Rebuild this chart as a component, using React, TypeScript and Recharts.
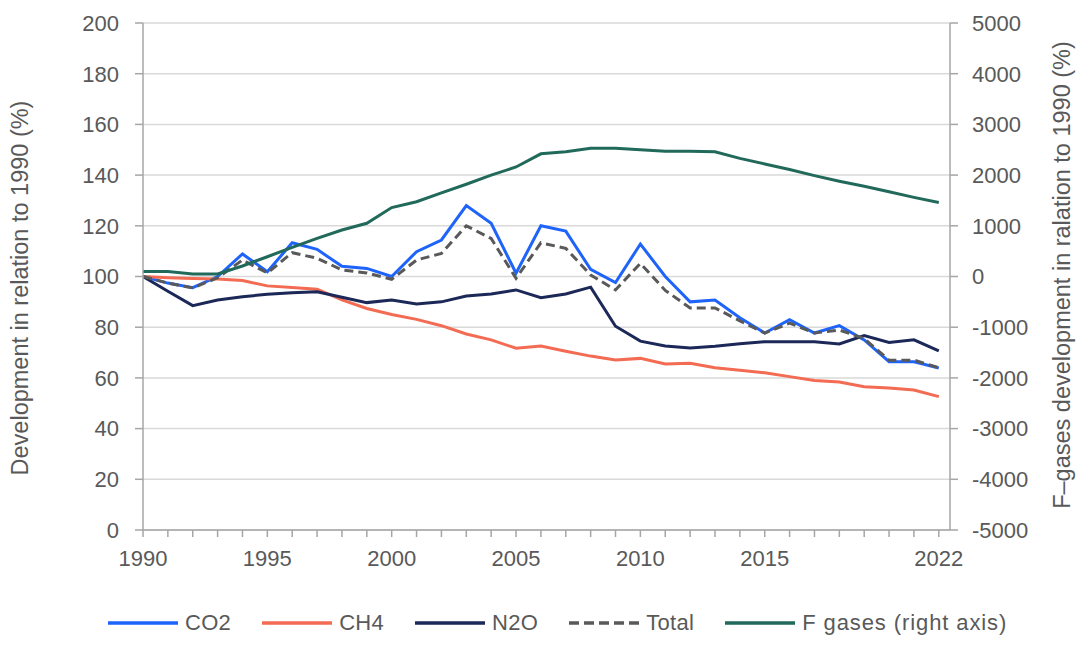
import React from 'react';
import { LineChart, Line, XAxis, YAxis, CartesianGrid, Legend } from 'recharts';

const years = [1990, 1991, 1992, 1993, 1994, 1995, 1996, 1997, 1998, 1999, 2000, 2001, 2002, 2003, 2004, 2005, 2006, 2007, 2008, 2009, 2010, 2011, 2012, 2013, 2014, 2015, 2016, 2017, 2018, 2019, 2020, 2021, 2022];
const co2 = [100, 97.4, 95.6, 100, 108.9, 101.9, 113.3, 110.7, 104, 103.2, 100, 109.8, 114.4, 128, 121, 101.3, 120, 117.9, 102.8, 97.6, 112.8, 100, 90, 90.7, 83.7, 77.7, 83, 77.7, 80.6, 75, 66.4, 66.4, 63.9];
const ch4 = [100, 99.5, 99.2, 99, 98.4, 96.3, 95.7, 95, 90.8, 87.4, 85, 83.1, 80.6, 77.3, 75, 71.7, 72.6, 70.5, 68.6, 67.1, 67.7, 65.5, 65.8, 64, 63, 62, 60.5, 59, 58.4, 56.5, 56, 55.2, 52.6];
const n2o = [100, 94.2, 88.5, 90.7, 92, 93, 93.6, 94, 91.8, 89.7, 90.7, 89.2, 90, 92.3, 93.1, 94.7, 91.6, 93.1, 95.8, 80.4, 74.5, 72.6, 71.8, 72.5, 73.5, 74.3, 74.3, 74.3, 73.4, 76.7, 74, 75, 70.7];
const total = [100, 97.4, 95.5, 99.5, 106.5, 101.4, 109.4, 107.2, 102.6, 101.4, 98.9, 106.5, 109.1, 120, 115, 99.3, 113.3, 111.1, 100.6, 94.7, 105.2, 94.5, 87.6, 87.6, 82.5, 77.7, 81.6, 77.7, 78.9, 75.5, 67, 67, 64];
const fgases = [100, 100, 50, 50, 207, 390, 575, 753, 917, 1050, 1360, 1475, 1650, 1820, 2000, 2160, 2420, 2460, 2530, 2530, 2500, 2470, 2470, 2460, 2330, 2220, 2110, 1990, 1880, 1780, 1670, 1560, 1460];

const labelYears = [1990, 1995, 2000, 2005, 2010, 2015, 2022];
const leftTicks = [0, 20, 40, 60, 80, 100, 120, 140, 160, 180, 200];
const rightTicks = [-5000, -4000, -3000, -2000, -1000, 0, 1000, 2000, 3000, 4000, 5000];

const seriesNames = ['CO2', 'CH4', 'N2O', 'Total', 'F gases (right axis)'];
const seriesColors = ['#1F64FA', '#F26B52', '#1B2858', '#595959', '#21695A'];

const data = years.map((year, i) => ({
  year,
  co2: co2[i],
  ch4: ch4[i],
  n2o: n2o[i],
  total: total[i],
  fgases: fgases[i],
}));

const FONT = '"Liberation Sans", Arial, sans-serif';
const TEXT = '#595959';
const AXIS = '#A6A6A6';

const LegendContent = () => (
  <div
    style={{
      display: 'flex',
      alignItems: 'center',
      height: 26,
      paddingLeft: 108,
      fontFamily: FONT,
      fontSize: 22,
      color: TEXT,
    }}
  >
    {seriesNames.map((name, i) => (
      <div key={name} style={{ display: 'flex', alignItems: 'center', marginRight: 31 }}>
        <svg width={70} height={6} style={{ marginRight: 7 }}>
          <line
            x1={0}
            y1={3}
            x2={70}
            y2={3}
            stroke={seriesColors[i]}
            strokeWidth={3.5}
            strokeDasharray={name === 'Total' ? '10 5' : undefined}
          />
        </svg>
        <span style={{ whiteSpace: 'nowrap', letterSpacing: name.length > 5 ? 0.9 : 0.3 }}>{name}</span>
      </div>
    ))}
  </div>
);

export default function App() {
  return (
    <div style={{ position: 'absolute', left: 0, top: 0, width: 1077, height: 645, background: '#fff' }}>
      <LineChart width={1077} height={645} data={data} margin={{ top: 23, right: 0, bottom: 0, left: 0 }}>
        <CartesianGrid vertical={false} yAxisId="left" stroke="#D9D9D9" strokeWidth={1.5} />
        <XAxis
          dataKey="year"
          type="number"
          domain={[1990, 2022.45]}
          ticks={years}
          interval={0}
          allowDataOverflow
          tickFormatter={(v: number) => (labelYears.includes(v) ? String(v) : '')}
          height={80}
          tickSize={7}
          tickMargin={13}
          tick={{ fill: TEXT, fontSize: 22, fontFamily: FONT }}
          axisLine={{ stroke: AXIS, strokeWidth: 1.5 }}
          tickLine={{ stroke: AXIS, strokeWidth: 1.5 }}
        />
        <YAxis
          yAxisId="left"
          domain={[0, 200]}
          ticks={leftTicks}
          interval={0}
          width={143}
          tickSize={8}
          tickMargin={16}
          tick={{ fill: TEXT, fontSize: 22, fontFamily: FONT }}
          axisLine={{ stroke: AXIS, strokeWidth: 1.5 }}
          tickLine={{ stroke: AXIS, strokeWidth: 1.5 }}
          label={{
            value: 'Development in relation to 1990 (%)',
            angle: -90,
            position: 'center',
            dx: -51.5,
            dy: 11.5,
            fill: TEXT,
            fontSize: 23.5,
            fontFamily: FONT,
          }}
        />
        <YAxis
          yAxisId="right"
          orientation="right"
          domain={[-5000, 5000]}
          ticks={rightTicks}
          interval={0}
          width={127}
          tickSize={8}
          tickMargin={14}
          tick={{ fill: TEXT, fontSize: 22, fontFamily: FONT }}
          axisLine={{ stroke: AXIS, strokeWidth: 1.5 }}
          tickLine={{ stroke: AXIS, strokeWidth: 1.5 }}
          label={{
            value: 'F–gases development in ralation to 1990 (%)',
            angle: -90,
            position: 'center',
            dx: 48.5,
            dy: -1.5,
            fill: TEXT,
            fontSize: 23.5,
            fontFamily: FONT,
          }}
        />
        <Legend verticalAlign="bottom" height={35} content={<LegendContent />} />
        <Line yAxisId="left" type="linear" dataKey="co2" name={seriesNames[0]} stroke={seriesColors[0]} strokeWidth={3} dot={false} isAnimationActive={false} />
        <Line yAxisId="left" type="linear" dataKey="ch4" name={seriesNames[1]} stroke={seriesColors[1]} strokeWidth={3} dot={false} isAnimationActive={false} />
        <Line yAxisId="left" type="linear" dataKey="n2o" name={seriesNames[2]} stroke={seriesColors[2]} strokeWidth={3} dot={false} isAnimationActive={false} />
        <Line yAxisId="left" type="linear" dataKey="total" name={seriesNames[3]} stroke={seriesColors[3]} strokeWidth={3} strokeDasharray="9 5" dot={false} isAnimationActive={false} />
        <Line yAxisId="right" type="linear" dataKey="fgases" name={seriesNames[4]} stroke={seriesColors[4]} strokeWidth={3} dot={false} isAnimationActive={false} />
      </LineChart>
    </div>
  );
}
